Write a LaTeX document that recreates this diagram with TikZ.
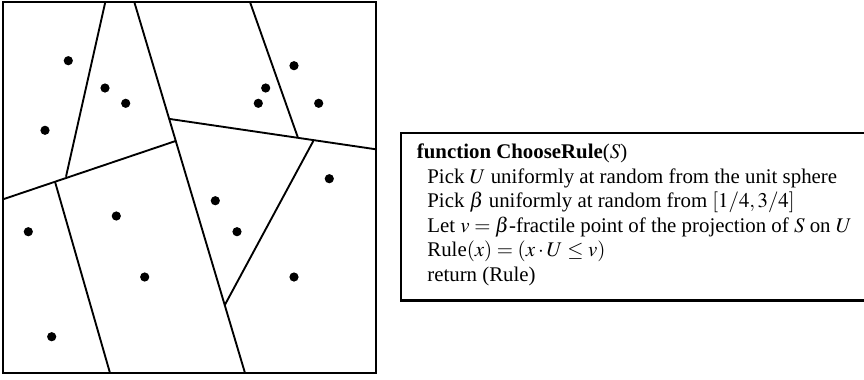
\documentclass[tikz,border=0pt]{standalone}
\usepackage{mathptmx}
\usepackage{fontspec}
\setmainfont{Liberation Serif}
\usetikzlibrary{positioning}
\tikzset{
  cut/.style={line width=1.6pt},
  frame/.style={line width=1.8pt},
  pt/.style={fill=black},
  algo/.style={align=left, inner sep=0pt, font=\fontsize{17.8}{20.9}\selectfont}
}

\begin{document}
\begin{tikzpicture}[x=0.03cm, y=-0.03cm]
\useasboundingbox (0,0) rectangle (864,379);
% outer square
\draw[frame] (3,2) rectangle (376,373);
% junctions
\coordinate (ta) at (105.3,2);
\coordinate (tc) at (134.3,2);
\coordinate (te) at (250,2);
\coordinate (lb) at (3,199.3);
\coordinate (jg) at (55,181.7);
\coordinate (ja) at (66,176.7);
\coordinate (jb) at (175.6,141);
\coordinate (jd) at (170,119);
\coordinate (je) at (297.7,137);
\coordinate (jf) at (313.3,141);
\coordinate (rd) at (376,149.3);
\coordinate (jc) at (224.8,305);
\coordinate (bc) at (245,373);
\coordinate (bg) at (110,373);
% cuts
\draw[cut] (ta) -- (ja);
\draw[cut] (lb) -- (jb);
\draw[cut] (tc) -- (bc);
\draw[cut] (jd) -- (rd);
\draw[cut] (te) -- (je);
\draw[cut] (jf) -- (jc);
\draw[cut] (jg) -- (bg);
% points
\foreach \x/\y in {68.3/60.7, 105/88, 125.7/103.3, 45/130.3,
  294/65.7, 265.7/88, 258.3/103.3, 318.7/103.3, 329.3/178.7,
  215.3/200.7, 237/231.7, 294/277, 116.3/216, 28.3/231.7,
  144.7/277, 51.7/336.7}
  \fill[pt] (\x,\y) circle (4.6);
% algorithm box
\draw[frame] (868,133.3) -- (401,133.3) -- (401,300.5) -- (868,300.5);
\node[algo, anchor=base west] (fn) at (416.7,281.3) {\textbf{function ChooseRule}($S$)\\
\hspace*{0.5em}Pick $U$ uniformly at random from the unit sphere\\
\hspace*{0.5em}Pick $\beta$ uniformly at random from $[1/4,3/4]$\\
\hspace*{0.5em}Let $v=\beta$-fractile point of the projection of $S$ on $U$\\
\hspace*{0.5em}Rule$(x)=(x\cdot U\leq v)$\\
\hspace*{0.5em}return (Rule)};
\end{tikzpicture}
\end{document}
